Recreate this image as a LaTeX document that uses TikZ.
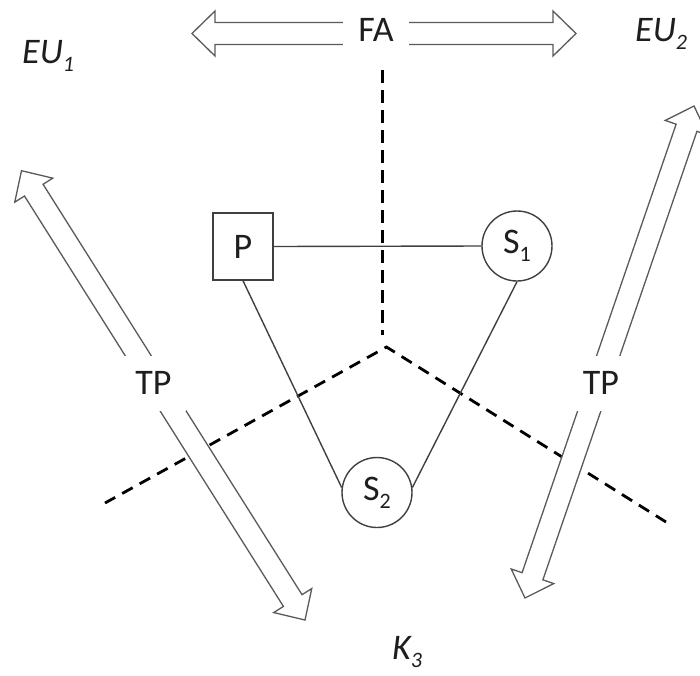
\documentclass[tikz,border=0pt]{standalone}
\usepackage{fontspec}
\setmainfont{Carlito}
\usetikzlibrary{calc}
\definecolor{linegray}{HTML}{404040}
\definecolor{arrgray}{HTML}{5A5A5A}
\definecolor{txtcol}{HTML}{1E1E1E}
\newcommand\mysub[1]{\raisebox{-8pt}{\fontsize{22}{26}\selectfont #1}}
\newcommand\dblarrow[2]{%
  \coordinate (#1-h) at ($(#1)!23pt!(#2)$);
  \coordinate (#2-h) at ($(#2)!23pt!(#1)$);
  \draw[arrowshape] (#1)
    -- ($(#1-h)!22.5pt!90:(#2)$) -- ($(#1-h)!11pt!90:(#2)$)
    -- ($(#2-h)!11pt!-90:(#1)$) -- ($(#2-h)!22.5pt!-90:(#1)$)
    -- (#2)
    -- ($(#2-h)!22.5pt!90:(#1)$) -- ($(#2-h)!11pt!90:(#1)$)
    -- ($(#1-h)!11pt!-90:(#2)$) -- ($(#1-h)!22.5pt!-90:(#2)$)
    -- cycle;}
\begin{document}
\begin{tikzpicture}[x=1pt,y=-1pt,
  font=\fontsize{36}{43}\selectfont, text=txtcol,
  arrowshape/.style={draw=arrgray, line width=1.3pt, fill=white, line join=miter},
  dashline/.style={draw=black, line width=2.8pt, dash pattern=on 12pt off 8pt},
  conn/.style={draw=linegray, line width=1.4pt},
  labelbox/.style={fill=white, inner sep=0pt, minimum width=66pt, minimum height=55pt},
  boxnode/.style={draw=linegray, line width=1.4pt, fill=white, inner sep=0pt, minimum width=60pt, minimum height=67pt},
  circnode/.style={draw=linegray, line width=1.4pt, fill=white, circle, inner sep=0pt, minimum size=70pt},
  sidelabel/.style={anchor=base west, inner sep=0pt, font=\fontsize{36}{43}\selectfont\itshape}]
\useasboundingbox (0,0) rectangle (700,675);
\clip (0,0) rectangle (700,675);

% dashed partition lines
\coordinate (vtop) at (382.5,70);
\coordinate (vbot) at (382.5,335);
\coordinate (apex) at (386.5,347);
\coordinate (dl) at (105,503);
\coordinate (dr) at (666,522);
\draw[dashline, dash pattern=on 13pt off 7pt] (vtop) -- (vbot);
\draw[dashline] (dr) -- (apex) -- (dl);

% double arrows
\coordinate (faL) at (192,33.5);
\coordinate (faR) at (576,33.5);
\coordinate (tlA) at (21.5,170.7);
\coordinate (tlB) at (305,620);
\coordinate (trA) at (694,106);
\coordinate (trB) at (525,598);
\dblarrow{faL}{faR}
\dblarrow{tlA}{tlB}
\dblarrow{trA}{trB}

% arrow labels
\node[labelbox] (fa) at (376,29.5) {FA};
\node[labelbox, minimum width=65pt] (tpl) at (153.5,383) {TP};
\node[labelbox, minimum width=67pt] (tpr) at (601,383) {TP};

% corner labels
\node[sidelabel] (eu1) at (22,63) {EU\mysub{1}};
\node[sidelabel] (eu2) at (635,41) {EU\mysub{2}};
\node[sidelabel] (k3) at (392,659) {K\mysub{3}};

% actors
\node[boxnode] (P) at (243,246.5) {P};
\node[circnode] (S1) at (517,246) {S\mysub{1}};
\node[circnode] (S2) at (377,492.5) {S\mysub{2}};

\draw[conn] (P.east) -- (S1.west);
\draw[conn] (P.south) -- (S2.172);
\draw[conn] (S1.south) -- (S2.8);
\end{tikzpicture}
\end{document}
